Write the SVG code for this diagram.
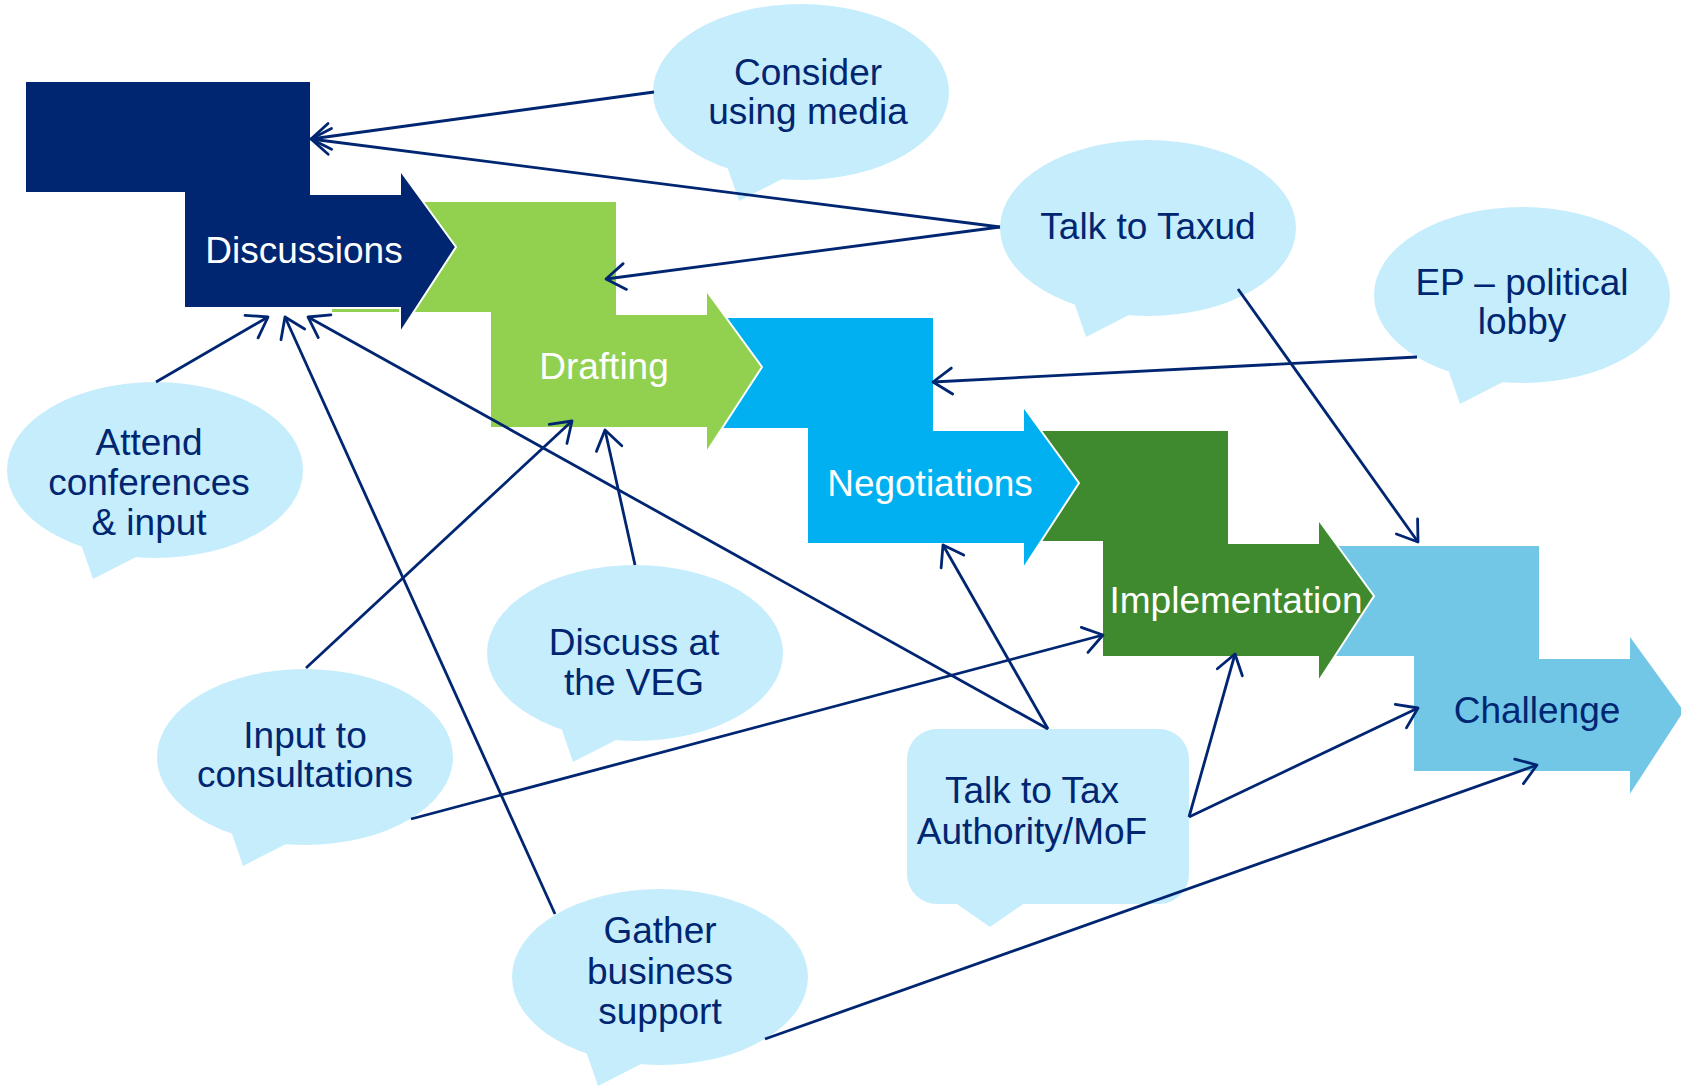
<svg xmlns="http://www.w3.org/2000/svg" xmlns:xlink="http://www.w3.org/1999/xlink" width="1681" height="1087" viewBox="0 0 1681 1087">
<style>
  .step { stroke: #ffffff; stroke-width: 2; }
  .steptxt { font-family: "Liberation Sans", Arial, sans-serif; font-size: 37px; fill: #ffffff; text-anchor: middle; }
  .bub { fill: #C5EDFC; }
  .btxt { font-family: "Liberation Sans", Arial, sans-serif; font-size: 37px; fill: #002672; text-anchor: middle; }
  .conn { stroke: #002672; stroke-width: 2.8; fill: none; marker-end: url(#ah); }
</style>
<defs>
  <path id="stepShape" d="M0,0 H286 V113 H375 V89 L431,166 L375,252 V227 H159 V112 H0 Z"/>
  <g id="bubbleShape">
    <ellipse cx="0" cy="0" rx="148" ry="88"/>
    <polygon points="-74,74 -62,109 -19,87 -10,80"/>
  </g>
  <marker id="ah" markerUnits="userSpaceOnUse" markerWidth="40" markerHeight="40" viewBox="-25 -20 30 40" refX="0" refY="0" orient="auto">
    <path d="M-19,-13 L0,0 L-19,13" fill="none" stroke="#002672" stroke-width="2.8" stroke-linejoin="round" stroke-linecap="round"/>
  </marker>
</defs>
<rect width="1681" height="1087" fill="#ffffff"/>

<g id="challenge">
  <use xlink:href="#stepShape" href="#stepShape" transform="translate(1254,545)" fill="#72C6E6" class="step"/>
  <text class="steptxt" x="1537" y="723" style="fill:#002672">Challenge</text>
</g>
<g id="implementation">
  <use xlink:href="#stepShape" href="#stepShape" transform="translate(943,430)" fill="#3F8A2F" class="step"/>
  <text class="steptxt" x="1236" y="613">Implementation</text>
</g>
<g id="negotiations">
  <use xlink:href="#stepShape" href="#stepShape" transform="translate(648,317)" fill="#00B0F0" class="step"/>
  <text class="steptxt" x="930" y="496">Negotiations</text>
</g>
<g id="drafting">
  <use xlink:href="#stepShape" href="#stepShape" transform="translate(331,201)" fill="#92D050" class="step"/>
  <text class="steptxt" x="604" y="379">Drafting</text>
</g>
<g id="discussions">
  <use xlink:href="#stepShape" href="#stepShape" transform="translate(25,81)" fill="#002672" class="step"/>
  <text class="steptxt" x="304" y="263">Discussions</text>
</g>

<g id="consider-media">
  <use xlink:href="#bubbleShape" href="#bubbleShape" transform="translate(801,92)" class="bub"/>
  <text class="btxt" x="808" y="85">Consider</text>
  <text class="btxt" x="808" y="124">using media</text>
</g>
<g id="talk-taxud">
  <use xlink:href="#bubbleShape" href="#bubbleShape" transform="translate(1148,228)" class="bub"/>
  <text class="btxt" x="1148" y="239">Talk to Taxud</text>
</g>
<g id="ep-lobby">
  <use xlink:href="#bubbleShape" href="#bubbleShape" transform="translate(1522,295)" class="bub"/>
  <text class="btxt" x="1522" y="295">EP – political</text>
  <text class="btxt" x="1522" y="334">lobby</text>
</g>
<g id="attend-conferences">
  <use xlink:href="#bubbleShape" href="#bubbleShape" transform="translate(155,470)" class="bub"/>
  <text class="btxt" x="149" y="455">Attend</text>
  <text class="btxt" x="149" y="495">conferences</text>
  <text class="btxt" x="149" y="535">&amp; input</text>
</g>
<g id="discuss-veg">
  <use xlink:href="#bubbleShape" href="#bubbleShape" transform="translate(635,653)" class="bub"/>
  <text class="btxt" x="634" y="655">Discuss at</text>
  <text class="btxt" x="634" y="695">the VEG</text>
</g>
<g id="input-consultations">
  <use xlink:href="#bubbleShape" href="#bubbleShape" transform="translate(305,757)" class="bub"/>
  <text class="btxt" x="305" y="748">Input to</text>
  <text class="btxt" x="305" y="787">consultations</text>
</g>
<g id="gather-support">
  <use xlink:href="#bubbleShape" href="#bubbleShape" transform="translate(660,977)" class="bub"/>
  <text class="btxt" x="660" y="943">Gather</text>
  <text class="btxt" x="660" y="984">business</text>
  <text class="btxt" x="660" y="1024">support</text>
</g>
<g id="talk-tax-authority">
  <rect class="bub" x="907" y="729" width="282" height="175" rx="30" ry="30"/>
  <polygon class="bub" points="954,902 990,927 1026,902"/>
  <text class="btxt" x="1032" y="803">Talk to Tax</text>
  <text class="btxt" x="1032" y="844">Authority/MoF</text>
</g>

<g id="connectors">
  <line class="conn" x1="654" y1="92" x2="311" y2="139"/>
  <line class="conn" x1="1000" y1="227" x2="311" y2="139"/>
  <line class="conn" x1="1000" y1="227" x2="606" y2="279"/>
  <line class="conn" x1="1238" y1="289" x2="1418" y2="542"/>
  <line class="conn" x1="1417" y1="357" x2="933" y2="382"/>
  <line class="conn" x1="156" y1="382" x2="268" y2="317"/>
  <line class="conn" x1="555" y1="914" x2="285" y2="317"/>
  <line class="conn" x1="1048" y1="729" x2="308" y2="317"/>
  <line class="conn" x1="306" y1="668" x2="572" y2="421"/>
  <line class="conn" x1="635" y1="565" x2="605" y2="430"/>
  <line class="conn" x1="1048" y1="729" x2="943" y2="545"/>
  <line class="conn" x1="411" y1="819" x2="1103" y2="635"/>
  <line class="conn" x1="1189" y1="817" x2="1235" y2="654"/>
  <line class="conn" x1="1189" y1="817" x2="1418" y2="708"/>
  <line class="conn" x1="765" y1="1039" x2="1537" y2="765"/>
</g>
</svg>
